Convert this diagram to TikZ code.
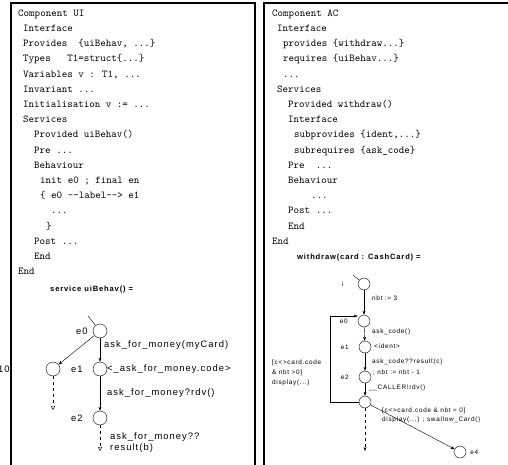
\documentclass[tikz,border=0pt]{standalone}
\usepackage{fontspec}
\newfontfamily\figfont[LetterSpace=11]{Liberation Sans}
\usetikzlibrary{positioning,arrows.meta}
\tikzset{
  panel/.style ={line width=1.8pt},
  code/.style  ={font=\fontsize{10.5}{12}\selectfont\ttfamily, anchor=base west, inner sep=0pt},
  title/.style ={font=\fontsize{7.6}{9}\selectfont\figfont\bfseries, anchor=base west, inner sep=0pt},
  ustate/.style={circle, draw, thin, minimum size=14pt, inner sep=0pt},
  astate/.style={circle, draw, thin, minimum size=12pt, inner sep=0pt},
  ulbl/.style  ={font=\fontsize{9.4}{11}\selectfont\figfont, inner sep=0pt},
  albl/.style  ={font=\fontsize{6.4}{8}\selectfont\figfont, inner sep=0pt},
  arr/.style   ={-{Stealth[length=4pt,width=3pt]}, thin},
  darr/.style  ={-{Triangle[open,length=4pt,width=4pt]}, thin, dashed},
  adarr/.style ={-{Stealth[length=4pt,width=3pt]}, thin, dashed},
}
\begin{document}
\begin{tikzpicture}[x=1pt, y=-1pt]
  \useasboundingbox (0,0) rectangle (508,465);
  % frames
  \draw[panel] (11,466) -- (11,3) -- (255,3) -- (255,466);
  \draw[panel] (264,466) -- (264,3) -- (510,3);

  % component UI
  \node[code] (ui1)  at (18,16.3)  {Component UI};
  \node[code] (ui2)  at (23,31.5)  {Interface};
  \node[code] (ui3)  at (23,46.7)  {Provides~~\{uiBehav, ...\}};
  \node[code] (ui4)  at (23,61.9)  {Types~~~T1=struct\{...\}};
  \node[code] (ui5)  at (23,77.1)  {Variables v : T1, ...};
  \node[code] (ui6)  at (23,92.3)  {Invariant ...};
  \node[code] (ui7)  at (23,107.5) {Initialisation v := ...};
  \node[code] (ui8)  at (23,122.7) {Services};
  \node[code] (ui9)  at (34,137.9) {Provided uiBehav()};
  \node[code] (ui10) at (34,153.1) {Pre ...};
  \node[code] (ui11) at (34,168.3) {Behaviour};
  \node[code] (ui12) at (40,183.5) {init e0 ; final en};
  \node[code] (ui13) at (40,198.7) {\{ e0 -{}-label-{}-> e1};
  \node[code] (ui14) at (51,213.9) {...};
  \node[code] (ui15) at (46,229.1) {\}};
  \node[code] (ui16) at (34,244.3) {Post ...};
  \node[code] (ui17) at (34,259.5) {End};
  \node[code] (ui18) at (18,274.7) {End};
  \node[title] (uit) at (50,291.5) {service uiBehav() =};

  % behaviour of uiBehav
  \node[ustate, label={[ulbl,label distance=5pt]left:e0}] (ui-e0) at (100,331) {};
  \node[ustate, label={[ulbl,label distance=36pt]left:e10}] (ui-e10) at (53,369) {};
  \node[ustate, label={[ulbl,label distance=10pt]left:e1}] (ui-e1) at (100,369) {};
  \node[ustate, label={[ulbl,label distance=10pt]left:e2}] (ui-e2) at (100,418) {};
  \coordinate (ui-init) at (88,316);
  \coordinate (ui-d10) at (53,410);
  \coordinate (ui-d2) at (100,451);
  \draw[thin] (ui-init) -- (ui-e0);
  \draw[arr] (ui-e0) -- (ui-e10);
  \draw[arr] (ui-e0) -- (ui-e1);
  \draw[arr] (ui-e1) -- (ui-e2);
  \draw[darr] (ui-e10) -- (ui-d10);
  \draw[darr] (ui-e2) -- (ui-d2);
  \node[ulbl, anchor=west] (ui-l1) at (104,345) {ask\_for\_money(myCard)};
  \node[ulbl, anchor=west] (ui-l2) at (107,369) {<\_ask\_for\_money.code>};
  \node[ulbl, anchor=west] (ui-l3) at (107,393) {ask\_for\_money?rdv()};
  \node[ulbl, anchor=west] (ui-l4) at (110,437) {ask\_for\_money??};
  \node[ulbl, anchor=west] (ui-l5) at (110,448) {result(b)};

  % component AC
  \node[code] (ac1)  at (272,16.3)  {Component AC};
  \node[code] (ac2)  at (277,31.5)  {Interface};
  \node[code] (ac3)  at (283,46.7)  {provides \{withdraw...\}};
  \node[code] (ac4)  at (283,61.9)  {requires \{uiBehav...\}};
  \node[code] (ac5)  at (283,77.1)  {...};
  \node[code] (ac6)  at (277,92.3)  {Services};
  \node[code] (ac7)  at (288,107.5) {Provided withdraw()};
  \node[code] (ac8)  at (288,122.7) {Interface};
  \node[code] (ac9)  at (294,137.9) {subprovides \{ident,...\}};
  \node[code] (ac10) at (294,153.1) {subrequires \{ask\_code\}};
  \node[code] (ac11) at (288,168.3) {Pre~~...};
  \node[code] (ac12) at (288,183.5) {Behaviour};
  \node[code] (ac13) at (311,198.7) {...};
  \node[code] (ac14) at (288,213.9) {Post ...};
  \node[code] (ac15) at (288,229.1) {End};
  \node[code] (ac16) at (272,244.3) {End};
  \node[title] (act) at (297,259.5) {withdraw(card : CashCard) =};

  % behaviour of withdraw
  \node[astate, label={[albl,label distance=14pt]left:i}] (ac-i) at (364,284) {};
  \node[astate, label={[albl,label distance=10pt]left:e0}] (ac-e0) at (364,321) {};
  \node[astate, label={[albl,label distance=10pt]left:e1}] (ac-e1) at (365,347) {};
  \node[astate, label={[albl,label distance=10pt]left:e2}] (ac-e2) at (365,377) {};
  \node[astate] (ac-e3) at (365,402) {};
  \node[astate, label={[albl,label distance=4pt]right:e4}] (ac-e4) at (460,452) {};
  \coordinate (ac-init) at (353,275);
  \coordinate (ac-loop) at (330,316);
  \coordinate (ac-d3) at (365,451);
  \draw[thin] (ac-init) -- (ac-i);
  \draw[arr] (ac-i) -- (ac-e0);
  \draw[arr] (ac-e0) -- (ac-e1);
  \draw[arr] (ac-e1) -- (ac-e2);
  \draw[arr] (ac-e2) -- (ac-e3);
  \draw[arr] (ac-e3.west) -| (ac-loop) -- (ac-loop -| ac-e0.west);
  \draw[adarr] (ac-e3) -- (ac-d3);
  \node[albl, anchor=west] (ac-l1) at (372,298) {nbt := 3};
  \node[albl, anchor=west] (ac-l2) at (372,332) {ask\_code()};
  \node[albl, anchor=west] (ac-l3) at (374,346) {<ident>};
  \node[albl, anchor=west] (ac-l4) at (372,362) {ask\_code??result(c)};
  \node[albl, anchor=west] (ac-l5) at (373,373) {; nbt := nbt - 1};
  \node[albl, anchor=west] (ac-l6) at (369,388) {\_\_CALLER!rdv()};
  \node[albl, anchor=west] (ac-l7) at (272,363) {[c<>card.code};
  \node[albl, anchor=west] (ac-l8) at (272,373) {\& nbt >0]};
  \node[albl, anchor=west] (ac-l9) at (272,383) {display(...)};
  \node[albl, anchor=west] (ac-l10) at (382,411) {[c<>card.code \& nbt = 0]};
  \node[albl, anchor=west] (ac-l11) at (382,420) {display(...) ; swallow\_Card()};
  \draw[arr] (ac-e3) -- (ac-e4);
\end{tikzpicture}
\end{document}
